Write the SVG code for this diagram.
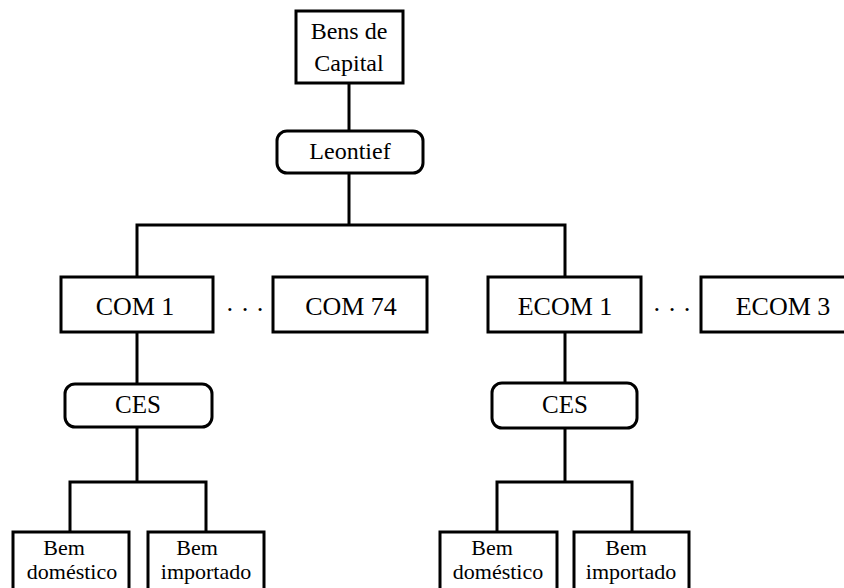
<svg xmlns="http://www.w3.org/2000/svg" width="844" height="588" viewBox="0 0 844 588">
<style>
.box{fill:#fff;stroke:#000;stroke-width:3}
.conn line,.conn polyline{fill:none;stroke:#000;stroke-width:3}
text{font-family:"Liberation Serif","Times New Roman",serif;fill:#000;text-anchor:middle}
.t22{font-size:22px}
.t24{font-size:24px}
.t25{font-size:25px}
.t26{font-size:26px}
</style>
<rect width="844" height="588" fill="#fff"/>
<g class="conn" id="connectors">
<line x1="349" y1="83" x2="349" y2="131"/>
<line x1="349" y1="173" x2="349" y2="225"/>
<polyline points="137,277 137,225 565,225 565,277"/>
<line x1="137" y1="332" x2="137" y2="384"/>
<line x1="565" y1="332" x2="565" y2="383"/>
<line x1="137" y1="427" x2="137" y2="482"/>
<polyline points="70,532 70,482 206,482 206,532"/>
<line x1="565" y1="428" x2="565" y2="482"/>
<polyline points="497,532 497,482 632,482 632,532"/>
</g>
<g id="bens-capital"><rect class="box" x="296" y="11" width="107" height="72"/><text class="t24" x="349" y="39">Bens de</text><text class="t24" x="349" y="71">Capital</text></g>
<g id="leontief"><rect class="box" x="277" y="131" width="146" height="42" rx="10"/><text class="t24" x="350" y="159">Leontief</text></g>
<g id="com1"><rect class="box" x="61" y="277" width="152" height="55"/><text class="t26" x="135" y="315">COM 1</text></g>
<g id="dots1"><text class="t26" x="245" y="318">· · ·</text></g>
<g id="com74"><rect class="box" x="273" y="277" width="154" height="55"/><text class="t26" x="351" y="315">COM 74</text></g>
<g id="ecom1"><rect class="box" x="488" y="277" width="153" height="55"/><text class="t26" x="565" y="315">ECOM 1</text></g>
<g id="dots2"><text class="t26" x="672" y="318">· · ·</text></g>
<g id="ecom3"><rect class="box" x="701" y="277" width="160" height="55"/><text class="t26" x="783" y="315">ECOM 3</text></g>
<g id="ces1"><rect class="box" x="65" y="384" width="147" height="43" rx="10"/><text class="t25" x="138" y="413">CES</text></g>
<g id="ces2"><rect class="box" x="492" y="383" width="145" height="45" rx="10"/><text class="t25" x="565" y="413">CES</text></g>
<g id="bem-dom1"><rect class="box" x="13" y="532" width="116" height="70"/><text class="t22" x="64" y="555">Bem</text><text class="t22" x="72" y="579">doméstico</text></g>
<g id="bem-imp1"><rect class="box" x="148" y="532" width="116" height="70"/><text class="t22" x="197" y="555">Bem</text><text class="t22" x="206" y="579">importado</text></g>
<g id="bem-dom2"><rect class="box" x="440" y="532" width="117" height="70"/><text class="t22" x="492" y="555">Bem</text><text class="t22" x="498" y="579">doméstico</text></g>
<g id="bem-imp2"><rect class="box" x="574" y="532" width="115" height="70"/><text class="t22" x="626" y="555">Bem</text><text class="t22" x="631" y="579">importado</text></g>
</svg>
